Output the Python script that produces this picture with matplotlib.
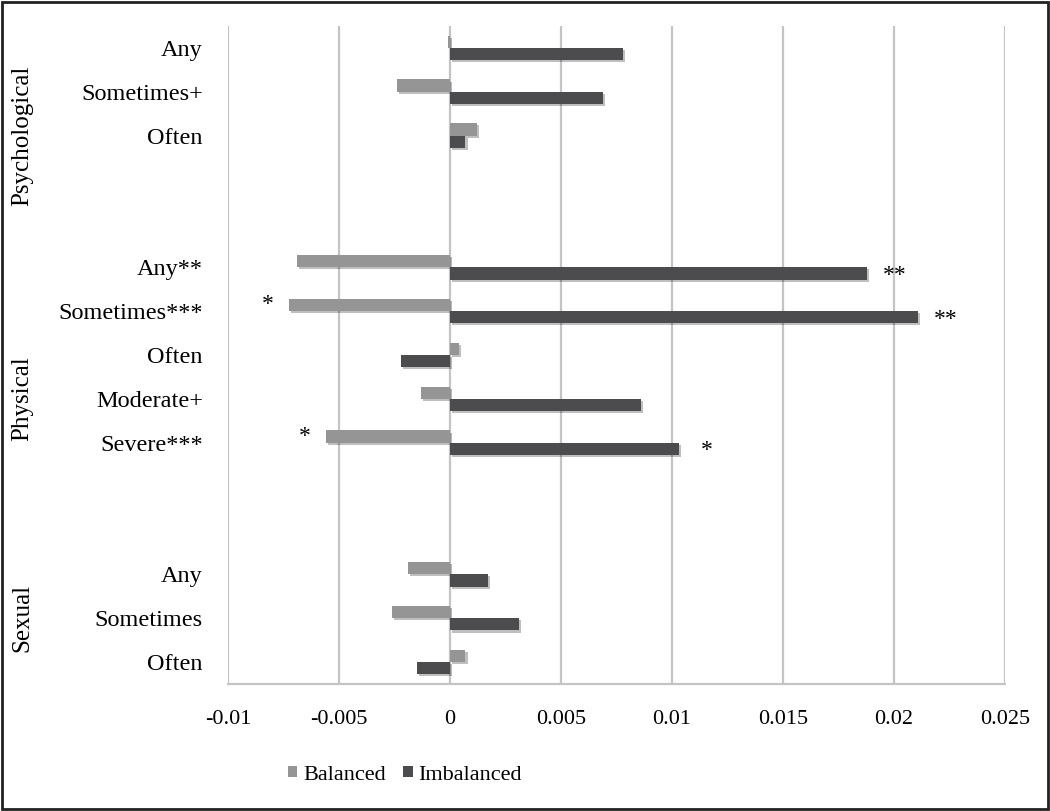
import numpy as np
import matplotlib.pyplot as plt
import matplotlib.patheffects as pe
from matplotlib.patches import Rectangle

# Данные
groups = ['Psychological', 'Physical', 'Sexual']
group_items = [
    ['Any', 'Sometimes+', 'Often'],
    ['Any**', 'Sometimes***', 'Often', 'Moderate+', 'Severe***'],
    ['Any', 'Sometimes', 'Often'],
]
balanced = [-0.0001, -0.0024, 0.0012,
            -0.0069, -0.00725, 0.0004, -0.0013, -0.0056,
            -0.0019, -0.0026, 0.0007]
imbalanced = [0.0078, 0.0069, 0.0007,
              0.0188, 0.0211, -0.0022, 0.0086, 0.0103,
              0.0017, 0.0031, -0.0015]
balanced_marks = ['', '', '', '', '*', '', '', '*', '', '', '']
imbalanced_marks = ['', '', '', '**', '**', '', '', '*', '', '', '']
xticks = [-0.01, -0.005, 0, 0.005, 0.01, 0.015, 0.02, 0.025]
xtick_labels = ['-0.01', '-0.005', '0', '0.005', '0.01', '0.015', '0.02', '0.025']

light = '#959595'
dark = '#4c4c4e'
grid_c = '#c4c4c4'
serif = ['Liberation Serif', 'DejaVu Serif']

# позиции: между группами две пустые строки
pos, labels, spans = [], [], []
y = 0
for i, items in enumerate(group_items):
    start = y
    for it in items:
        pos.append(y)
        labels.append(it)
        y += 1
    end = y - 1
    if i < len(group_items) - 1:
        end += 2
        y += 2
    spans.append((start, end))
pos = np.array(pos)

fig = plt.figure(figsize=(10.5, 8.11), dpi=100)
ax = fig.add_axes([0.2171, 0.1566, 0.740, 0.8114])

h = 0.28
shadow = [pe.SimplePatchShadow(offset=(1.5, -1.5), shadow_rgbFace='#000000', alpha=0.25), pe.Normal()]
b1 = ax.barh(pos - h / 2, balanced, height=h, color=light, label='Balanced', zorder=3)
b2 = ax.barh(pos + h / 2, imbalanced, height=h, color=dark, label='Imbalanced', zorder=3)
for r in list(b1) + list(b2):
    r.set_path_effects(shadow)

for p, v, m in zip(pos, balanced, balanced_marks):
    if m:
        ax.annotate(m, (v, p - h / 2), xytext=(-15, 0), textcoords='offset points',
                    ha='center', va='center', fontsize=17, family=serif)
for p, v, m in zip(pos, imbalanced, imbalanced_marks):
    if m:
        ax.annotate(m, (v, p + h / 2), xytext=(20, -1.5), textcoords='offset points',
                    ha='center', va='center', fontsize=17, family=serif)

ax.set_xlim(-0.01, 0.025)
ax.set_ylim(14.5, -0.5)
ax.set_xticks(xticks)
ax.set_xticklabels(xtick_labels, family=serif, fontsize=16)
ax.set_yticks(pos)
ax.set_yticklabels(labels, family=serif, fontsize=17.5)
ax.tick_params(axis='both', length=0)
ax.tick_params(axis='y', pad=18)
ax.tick_params(axis='x', pad=19)
ax.xaxis.grid(True, color=grid_c, linewidth=1.6, zorder=0)
ax.set_axisbelow(True)
for s in ['top', 'right', 'left']:
    ax.spines[s].set_visible(False)
ax.spines['bottom'].set_color(grid_c)
ax.spines['bottom'].set_linewidth(1.6)

# подписи групп
for g, (s, e) in zip(groups, spans):
    yc = (s + e) / 2
    ax.text(-0.265, yc, g, transform=ax.get_yaxis_transform(), rotation=90,
            ha='center', va='center', fontsize=18, family=serif)

leg = fig.legend(handles=[b1, b2], loc='center', bbox_to_anchor=(405 / 1050, 1 - 775 / 811),
                 ncol=2, frameon=False, prop={'family': serif, 'size': 16},
                 handlelength=0.42, handleheight=0.42, handletextpad=0.25, columnspacing=0.8)
for hdl in leg.legend_handles:
    hdl.set_path_effects([])

fig.patches.append(Rectangle((0.002, 0.002), 0.996, 0.996, transform=fig.transFigure,
                             fill=False, edgecolor='#222222', linewidth=2))

plt.savefig('out.png', dpi=100)
